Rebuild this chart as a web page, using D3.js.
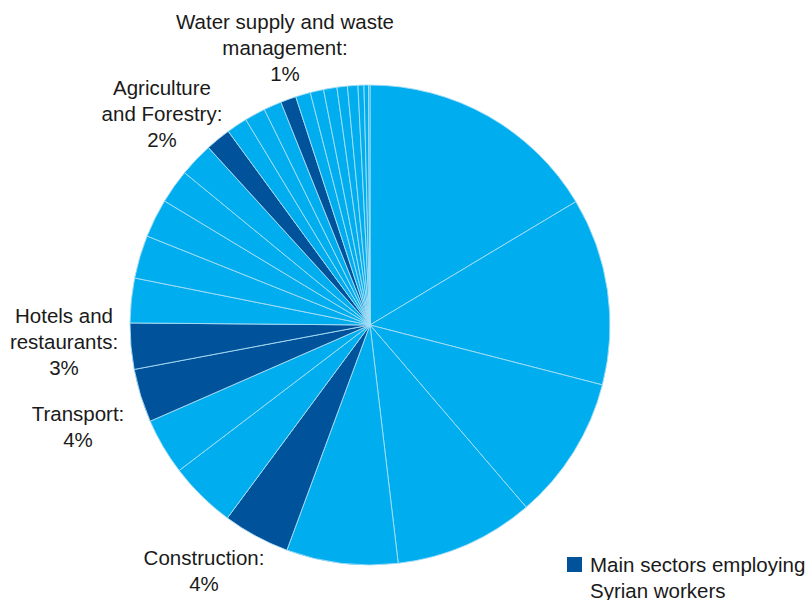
<!DOCTYPE html>
<html>
<head>
<meta charset="utf-8">
<script src="https://cdn.jsdelivr.net/npm/d3@7"></script>
<style>
  body { margin: 0; background: #fff; }
  text { font-family: "Liberation Sans", Arial, sans-serif; fill: #1a1a1a; }
</style>
</head>
<body>
<svg id="sector_pie" width="809" height="600"></svg>
<script>
// Share of Syrian workers by sector (%), clockwise from 12 o'clock
const sectors = [
    "Sector A", "Sector B", "Sector C", "Sector D", "Sector E",
    "Construction", "Sector F", "Sector G", "Transport", "Hotels and restaurants",
    "Sector H", "Sector I", "Sector J", "Sector K", "Sector L",
    "Agriculture and Forestry", "Sector M", "Sector N", "Sector O",
    "Water supply and waste management", "Sector P", "Sector Q", "Sector R",
    "Sector S", "Sector T", "Sector U", "Sector V", "Sector W"
];
const shares = [
    16.4, 12.6, 9.7, 9.4, 7.5,
    4.5, 4.5, 3.8, 3.6, 3.1,
    3.0, 2.9, 2.6, 2.3, 2.3,
    1.7, 1.4, 1.4, 1.2,
    1.05, 1.0, 0.9, 0.9,
    0.7, 0.7, 0.4, 0.3, 0.1
];
const mainSectors = ["Construction", "Transport", "Hotels and restaurants",
    "Agriculture and Forestry", "Water supply and waste management"];

// Labels shown next to the main sectors
const labelLines = {
    "Water supply and waste management": ["Water supply and waste", "management:", "1%"],
    "Agriculture and Forestry": ["Agriculture", "and Forestry:", "2%"],
    "Hotels and restaurants": ["Hotels and", "restaurants:", "3%"],
    "Transport": ["Transport:", "4%"],
    "Construction": ["Construction:", "4%"]
};
const legendLines = ["Main sectors employing", "Syrian workers"];

const svg = d3.select("#sector_pie"),
    cx = 370, cy = 325, radius = 240;

const color = d => mainSectors.includes(d) ? "#00529b" : "#00aeef";

const data = sectors.map((s, i) => ({sector: s, value: shares[i]}));

const pie = d3.pie().sort(null).value(d => d.value);
const arc = d3.arc().innerRadius(0).outerRadius(radius);

const g = svg.append("g").attr("transform", `translate(${cx},${cy})`);

g.selectAll("path")
    .data(pie(data))
    .join("path")
    .attr("d", arc)
    .attr("fill", d => color(d.data.sector))
    .attr("stroke", "#a8def5")
    .attr("stroke-width", 0.9);

// label placement (baseline of first line, centre x)
const labelPos = {
    "Water supply and waste management": [285, 29],
    "Agriculture and Forestry": [162, 95],
    "Hotels and restaurants": [64, 323],
    "Transport": [78, 421],
    "Construction": [204, 565]
};
const lineH = 26;
const fontSize = 20.5;

Object.entries(labelLines).forEach(([key, lines]) => {
    const [lx, ly] = labelPos[key];
    const t = svg.append("text")
        .attr("text-anchor", "middle")
        .attr("font-size", fontSize);
    lines.forEach((ln, i) => {
        t.append("tspan").attr("x", lx).attr("y", ly + i * lineH).text(ln);
    });
});

// Legend
const legend = svg.append("g").attr("transform", "translate(567,557)");
legend.append("rect")
    .attr("width", 15).attr("height", 15)
    .attr("fill", "#00529b");
const lt = legend.append("text").attr("font-size", fontSize);
legendLines.forEach((ln, i) => {
    lt.append("tspan").attr("x", 23).attr("y", 15 + i * lineH).text(ln);
});
</script>
</body>
</html>
